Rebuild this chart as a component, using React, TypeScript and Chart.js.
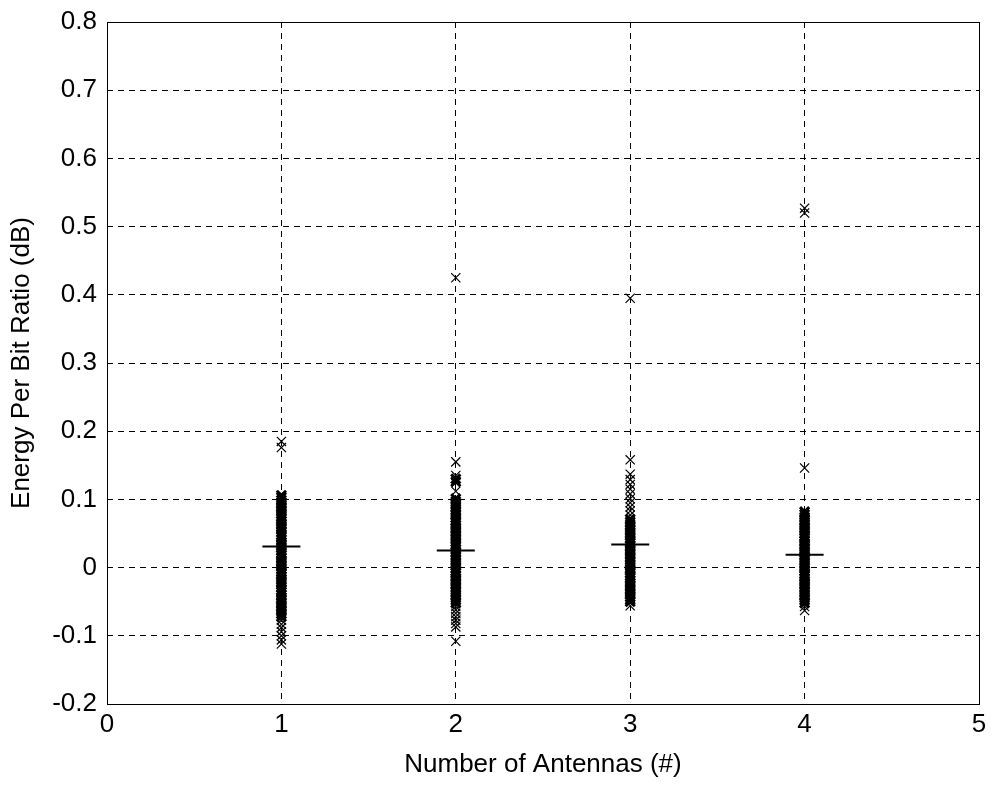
import React, { useEffect, useRef } from "react";
import { Chart, registerables } from "chart.js";

Chart.register(...registerables);

// ---- data ----
const antennaCounts = [1, 2, 3, 4];

const samplesAnt1 = [
  0.185, 0.176,
  0.106, 0.103, 0.099, 0.095, 0.091, 0.087, 0.083, 0.079, 0.075, 0.072, 0.068, 0.064,
  0.060, 0.056, 0.052, 0.048, 0.045, 0.041, 0.037, 0.033, 0.029, 0.025, 0.021, 0.018,
  0.014, 0.010, 0.006, 0.002, -0.002, -0.006, -0.009, -0.013, -0.017, -0.021, -0.025,
  -0.029, -0.033, -0.036, -0.040, -0.044, -0.048, -0.052, -0.056, -0.060, -0.064, -0.068,
  -0.072, -0.077, -0.083, -0.088, -0.094, -0.100, -0.106, -0.112,
];

const samplesAnt2 = [
  0.425, 0.155, 0.135, 0.130, 0.126, 0.112,
  0.101, 0.097, 0.093, 0.089, 0.085, 0.081, 0.077, 0.073, 0.069, 0.066, 0.062, 0.058,
  0.054, 0.050, 0.046, 0.042, 0.038, 0.034, 0.031, 0.027, 0.023, 0.019, 0.015, 0.011,
  0.007, 0.003, -0.001, -0.005, -0.008, -0.012, -0.016, -0.020, -0.024, -0.028, -0.032,
  -0.036, -0.040, -0.044, -0.048, -0.052,
  -0.057, -0.062, -0.067, -0.072, -0.077, -0.082, -0.087, -0.108,
];

const samplesAnt3 = [
  0.395, 0.158,
  0.137, 0.129, 0.122, 0.115, 0.108, 0.101, 0.095, 0.089, 0.083, 0.077,
  0.071, 0.067, 0.063, 0.059, 0.055, 0.051, 0.047, 0.043, 0.039, 0.036, 0.032, 0.028,
  0.024, 0.020, 0.016, 0.012, 0.008, 0.004, 0.000, -0.004, -0.008, -0.012, -0.015,
  -0.019, -0.023, -0.027, -0.031, -0.035, -0.039, -0.043, -0.047, -0.050,
  -0.056,
];

const samplesAnt4 = [
  0.527, 0.520, 0.146,
  0.082, 0.078, 0.074, 0.070, 0.066, 0.062, 0.058, 0.054, 0.050, 0.046, 0.043, 0.039,
  0.035, 0.031, 0.027, 0.023, 0.019, 0.015, 0.011, 0.007, 0.003, -0.001, -0.005, -0.009,
  -0.012, -0.016, -0.020, -0.024, -0.028, -0.032, -0.036, -0.040, -0.044, -0.048, -0.052,
  -0.057, -0.063,
];

const meanValues = [0.031, 0.025, 0.034, 0.019];

const xTicks = [0, 1, 2, 3, 4, 5];
const xTickLabels = ["0", "1", "2", "3", "4", "5"];
const yTicks = [-0.2, -0.1, 0, 0.1, 0.2, 0.3, 0.4, 0.5, 0.6, 0.7, 0.8];
const yTickLabels = ["-0.2", "-0.1", "0", "0.1", "0.2", "0.3", "0.4", "0.5", "0.6", "0.7", "0.8"];

const xTitle = "Number of Antennas (#)";
const yTitle = "Energy Per Bit Ratio (dB)";

const allSamples = [samplesAnt1, samplesAnt2, samplesAnt3, samplesAnt4];

const FONT = "'Liberation Sans', Arial, Helvetica, sans-serif";

const framePlugin = {
  id: "frame",
  afterDatasetsDraw(chart: any) {
    const { ctx, chartArea } = chart;
    ctx.save();
    ctx.strokeStyle = "#000";
    ctx.lineWidth = 1;
    ctx.setLineDash([]);
    ctx.strokeRect(
      Math.round(chartArea.left) + 0.5,
      Math.round(chartArea.top) + 0.5,
      Math.round(chartArea.right - chartArea.left),
      Math.round(chartArea.bottom - chartArea.top)
    );
    ctx.restore();
  },
};

// markers packed tightly together merge into a solid column, as in the reference
function densityWidth(vals: number[]) {
  return (c: any) => {
    const v = vals[c.dataIndex];
    if (v === undefined) return 1.2;
    let nearest = Infinity;
    for (let j = 0; j < vals.length; j++) {
      if (j !== c.dataIndex) nearest = Math.min(nearest, Math.abs(vals[j] - v));
    }
    return nearest <= 0.0045 ? 3 : 1.2;
  };
}

export default function App() {
  const canvasRef = useRef<HTMLCanvasElement | null>(null);

  useEffect(() => {
    if (!canvasRef.current) return;
    const sampleDatasets = allSamples.map((vals, i) => ({
      label: `Antennas ${antennaCounts[i]}`,
      data: vals.map((v) => ({ x: antennaCounts[i], y: v })),
      pointStyle: "crossRot" as const,
      pointRadius: 6.5,
      pointBorderWidth: densityWidth(vals),
      borderColor: "#000",
      backgroundColor: "#000",
      showLine: false,
    }));
    const meanDataset = {
      label: "Mean",
      data: meanValues.map((v, i) => ({ x: antennaCounts[i], y: v })),
      pointStyle: "line" as const,
      pointRadius: 19,
      pointBorderWidth: 2,
      borderColor: "#000",
      backgroundColor: "#000",
      showLine: false,
    };

    const chart = new Chart(canvasRef.current, {
      type: "scatter",
      data: { datasets: [...sampleDatasets, meanDataset] },
      options: {
        animation: false,
        responsive: false,
        maintainAspectRatio: false,
        layout: { padding: { top: 22, right: 17, left: 0, bottom: 0 } },
        plugins: {
          legend: { display: false },
          tooltip: { enabled: false },
        },
        scales: {
          x: {
            type: "linear",
            min: 0,
            max: 5,
            afterBuildTicks: (s: any) => {
              s.ticks = xTicks.map((v) => ({ value: v }));
            },
            afterFit: (s: any) => {
              s.height = 84;
              s.paddingLeft = 0;
              s.paddingRight = 0;
            },
            ticks: {
              color: "#000",
              font: { family: FONT, size: 26 },
              padding: 5,
              maxRotation: 0,
              callback: (_v: any, i: number) => xTickLabels[i],
            },
            grid: { color: "#000", lineWidth: 1, drawTicks: false },
            border: { display: false, dash: [6, 5] },
            title: {
              display: true,
              text: xTitle,
              color: "#000",
              font: { family: FONT, size: 26 },
              padding: { top: 0, bottom: 8 },
            },
          },
          y: {
            type: "linear",
            min: -0.2,
            max: 0.8,
            afterBuildTicks: (s: any) => {
              s.ticks = yTicks.map((v) => ({ value: v }));
            },
            afterFit: (s: any) => {
              s.width = 107;
              s.paddingTop = 0;
              s.paddingBottom = 0;
            },
            ticks: {
              color: "#000",
              font: { family: FONT, size: 26 },
              padding: 10,
              callback: (_v: any, i: number) => yTickLabels[i],
            },
            grid: { color: "#000", lineWidth: 1, drawTicks: false },
            border: { display: false, dash: [6, 5] },
            title: {
              display: true,
              text: yTitle,
              color: "#000",
              font: { family: FONT, size: 26 },
              padding: { top: 6, bottom: 0 },
            },
          },
        },
      },
      plugins: [framePlugin],
    });
    return () => chart.destroy();
  }, []);

  return (
    <div style={{ position: "absolute", left: 0, top: 0, width: 1000, height: 788, background: "#fff" }}>
      <canvas ref={canvasRef} width={1000} height={788} style={{ width: 1000, height: 788, display: "block" }} />
    </div>
  );
}
